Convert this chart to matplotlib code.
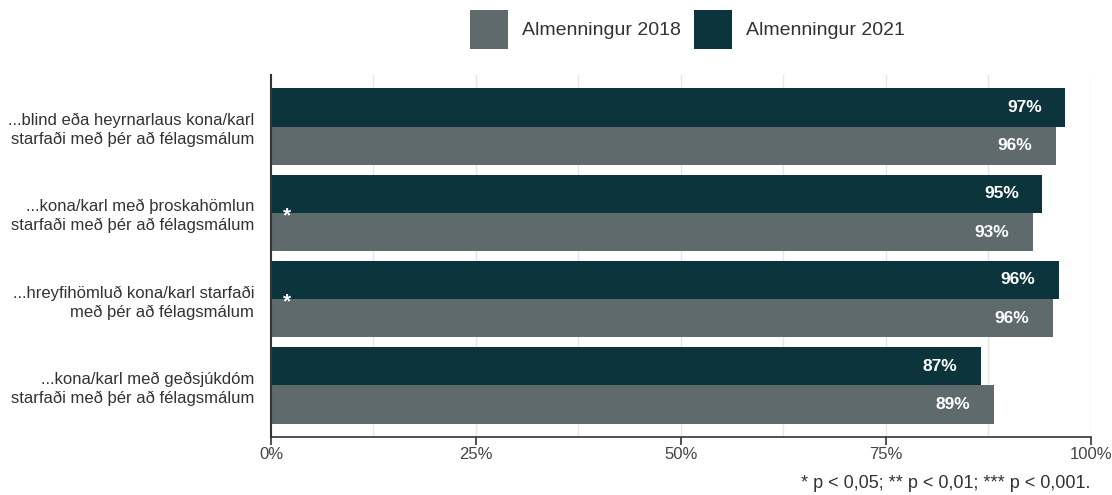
import matplotlib.pyplot as plt
import numpy as np
from matplotlib.ticker import MultipleLocator, FuncFormatter

# Data
categories = ['...blind eða heyrnarlaus kona/karl\nstarfaði með þér að félagsmálum',
              '...kona/karl með þroskahömlun\nstarfaði með þér að félagsmálum',
              '...hreyfihömluð kona/karl starfaði\nmeð þér að félagsmálum',
              '...kona/karl með geðsjúkdóm\nstarfaði með þér að félagsmálum']
vals_2021 = [96.9, 94.1, 96.1, 86.6]
vals_2018 = [95.7, 92.9, 95.4, 88.2]
labels_2021 = ['97%', '95%', '96%', '87%']
labels_2018 = ['96%', '93%', '96%', '89%']
stars = ['', '*', '*', '']

c2018 = '#5e6a6c'
c2021 = '#0c343d'

plt.rcParams['font.family'] = ['Liberation Sans', 'DejaVu Sans']

fig = plt.figure(figsize=(11.12, 4.95), dpi=100)
ax = fig.add_axes([0.2437, 0.1172, 0.7373, 0.7313])

y = np.arange(len(categories))
h = 0.445
b21 = ax.barh(y - h/2, vals_2021, height=h, color=c2021, label='Almenningur 2021', zorder=2)
b18 = ax.barh(y + h/2, vals_2018, height=h, color=c2018, label='Almenningur 2018', zorder=2)

for i in range(len(categories)):
    ax.annotate(labels_2021[i], (vals_2021[i], y[i] - h/2), xytext=(-17, 0), textcoords='offset points',
                ha='right', va='center', color='white', fontweight='bold', fontsize=12.5)
    ax.annotate(labels_2018[i], (vals_2018[i], y[i] + h/2), xytext=(-17, 0), textcoords='offset points',
                ha='right', va='center', color='white', fontweight='bold', fontsize=12.5)
    if stars[i]:
        ax.text(2, y[i] + 0.03, stars[i], ha='center', va='center', color='white',
                fontweight='bold', fontsize=15)

ax.set_xlim(0, 100)
ax.set_ylim(3.6, -0.6)
ax.set_yticks(y)
ax.set_yticklabels(categories, fontsize=12, color='#333333', linespacing=1.3)
ax.tick_params(axis='y', length=0, pad=12)
ax.xaxis.set_major_locator(MultipleLocator(25))
ax.xaxis.set_minor_locator(MultipleLocator(12.5))
ax.xaxis.set_major_formatter(FuncFormatter(lambda v, p: f'{v:.0f}%'))
ax.tick_params(axis='x', which='major', length=6, width=1.2, color='#333333', labelsize=12,
               labelcolor='#444444', pad=1.5)
ax.tick_params(axis='x', which='minor', length=0)
ax.grid(axis='x', which='both', color='#e6e6e6', linewidth=1, zorder=0)
ax.set_axisbelow(True)
for s in ['top', 'right']:
    ax.spines[s].set_visible(False)
ax.spines['left'].set_color('#333333')
ax.spines['left'].set_linewidth(1.5)
ax.spines['bottom'].set_color('#333333')
ax.spines['bottom'].set_linewidth(1.2)

fig.legend(handles=[b18, b21], labels=['Almenningur 2018', 'Almenningur 2021'],
           loc='upper left', bbox_to_anchor=(0.4227, 0.98), ncol=2, frameon=False,
           fontsize=14, handlelength=1.95, handleheight=2.72, columnspacing=0.67,
           handletextpad=0.72, labelcolor='#333333', borderpad=0, borderaxespad=0)

fig.text(0.981, 0.006, '* p < 0,05; ** p < 0,01; *** p < 0,001.', ha='right', va='bottom',
         fontsize=13, color='#333333')

fig.savefig('out.png', dpi=100)
